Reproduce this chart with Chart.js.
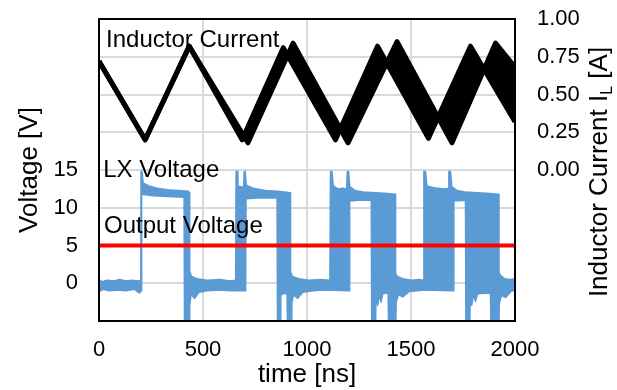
<!DOCTYPE html>
<html>
<head>
<meta charset="utf-8">
<script src="https://cdn.jsdelivr.net/npm/chart.js"></script>
<style>
  body { margin: 0; background: #fff; }
  #wrap { width: 617px; height: 390px; }
</style>
</head>
<body>
<div id="wrap"><canvas id="scope" width="617" height="390"></canvas></div>
<script>
'use strict';

// tick labels that get printed (other grid steps stay unlabelled)
var timeTicks = [0, 500, 1000, 1500, 2000];
var voltTicks = [0, 5, 10, 15];
var currentTicks = [0, 0.25, 0.5, 0.75, 1];

// inductor current, two overlaid captures (early / late switching) [ns, A]
var currentEarly = [[0,0.72],[222,0.20],[434,0.82],[688,0.20],[886,0.81],[1137,0.20],[1339,0.82],[1584,0.21],[1786,0.82],[2000,0.32]];
var currentLate  = [[0,0.72],[222,0.20],[434,0.82],[716,0.18],[933,0.84],[1197,0.18],[1433,0.85],[1697,0.18],[1906,0.84],[2000,0.68]];

// LX node voltage, upper edge of the persistence trace [ns, V]
var lxUpper = [
  [0,0.5],[15,0.2],[40,0.4],[70,0.3],[100,0.5],[130,0.3],[160,0.4],[190,0.3],[201,0.4],
  [202,14.8],[207,14.8],[212,13.3],[240,12.9],[280,12.6],[330,12.4],[380,12.3],[430,12.2],
  [434,12.0],[436,1.6],[445,0.9],[470,0.6],[520,0.4],[580,0.5],[630,0.3],[657,0.4],
  [659,14.8],[664,14.8],[668,12.9],[695,12.7],[698,14.8],[703,14.8],[708,13.0],[740,12.6],[800,12.3],[860,12.2],[919,12.0],
  [921,1.5],[930,0.9],[960,0.6],[1010,0.4],[1060,0.5],[1110,0.4],
  [1113,14.8],[1120,14.8],[1126,12.9],[1150,12.5],[1170,12.6],[1190,12.5],[1194,14.8],[1200,14.8],[1206,12.8],[1230,12.3],[1270,12.1],[1330,12.0],[1390,11.9],[1424,11.8],
  [1426,1.3],[1434,0.9],[1460,0.6],[1500,0.4],[1540,0.5],[1560,0.4],
  [1562,14.8],[1570,14.8],[1576,12.9],[1620,12.6],[1660,12.5],[1680,12.6],[1682,14.8],[1690,14.8],[1696,12.8],[1720,12.3],[1760,12.1],[1820,12.0],[1880,11.9],[1921,11.8],
  [1923,1.4],[1932,1.0],[1950,0.6],[1975,0.5],[2000,0.6]
];

// LX node voltage, lower edge of the persistence trace [ns, V]
var lxLower = [
  [0,-1.1],[20,-0.8],[50,-1.0],[90,-0.9],[130,-1.0],[170,-0.8],[195,-1.3],[203,-1.0],
  [205,11.8],[260,11.6],[330,11.5],[409,11.4],
  [411,-5],[434,-5],[436,-3.0],[442,-1.5],[460,-2.0],[480,-1.2],[520,-1.0],[580,-0.9],[630,-1.0],[705,-1.0],
  [707,11.2],[760,11.3],[856,11.3],
  [858,-5],[872,-5],[874,-1.6],[890,-1.3],[904,-1.5],[906,-5],[925,-5],[927,-2.6],[935,-1.5],[955,-2.0],[980,-1.2],[1030,-1.0],[1080,-0.9],[1203,-1.0],
  [1205,10.9],[1250,11.0],[1309,11.0],
  [1311,-5],[1330,-5],[1332,-1.8],[1340,-2.9],[1348,-1.5],[1356,-2.5],[1364,-1.4],[1390,-1.3],[1392,-5],[1427,-5],[1429,-2.5],[1440,-1.5],[1460,-1.8],[1490,-1.1],[1530,-1.0],[1560,-0.9],[1704,-1.0],
  [1706,10.9],[1762,11.0],
  [1764,-5],[1783,-5],[1785,-1.8],[1792,-2.9],[1800,-1.5],[1810,-2.4],[1820,-1.4],[1882,-1.3],[1884,-5],[1923,-5],[1925,-2.6],[1935,-1.6],[1955,-1.9],[1980,-1.1],[2000,-0.9]
];

// regulated output
var outputVoltage = [[0,5],[2000,5]];

var lxBlue = '#5B9BD5';
var fontName = "'Liberation Sans', Arial, sans-serif";

function toPoints(list){
    return list.map(function(p){ return {x: p[0], y: p[1]}; });
}

// fixed axis box sizes so the plot area lands where it should
function fixWidth(w){
    return function(scale){
        scale.width = w;
        scale.paddingTop = 0;
        scale.paddingBottom = 0;
    };
}

// frame around the plot area + right axis title + trace labels
var extras = {
    id: 'extras',
    afterDatasetsDraw: function(chart){
        var ctx = chart.ctx;
        var a = chart.chartArea;
        var xs = chart.scales.x;
        var yv = chart.scales.y;
        var yi = chart.scales.y1;

        ctx.save();
        ctx.strokeStyle = '#000';
        ctx.lineWidth = 2;
        ctx.strokeRect(a.left, a.top, a.right - a.left, a.bottom - a.top);

        ctx.fillStyle = '#000';
        ctx.textAlign = 'left';
        ctx.textBaseline = 'alphabetic';
        ctx.font = '24px ' + fontName;
        ctx.fillText('Inductor Current', xs.getPixelForValue(34), yi.getPixelForValue(0.815));
        ctx.fillText('LX Voltage', xs.getPixelForValue(20), yv.getPixelForValue(14.05));
        ctx.fillText('Output Voltage', xs.getPixelForValue(24), yv.getPixelForValue(6.6));
        ctx.restore();
    },
    afterDraw: function(chart){
        var ctx = chart.ctx;
        var a = chart.chartArea;
        var mainFont = '26px ' + fontName;
        var subFont = '16px ' + fontName;
        var part1 = 'Inductor Current I';
        var part2 = 'L';
        var part3 = ' [A]';

        ctx.save();
        ctx.font = mainFont;
        var w1 = ctx.measureText(part1).width;
        var w3 = ctx.measureText(part3).width;
        ctx.font = subFont;
        var w2 = ctx.measureText(part2).width;
        var total = w1 + w2 + w3;

        ctx.translate(chart.width - 10, (a.top + a.bottom) / 2 + 2);
        ctx.rotate(-Math.PI / 2);
        ctx.fillStyle = '#000';
        ctx.textAlign = 'left';
        ctx.textBaseline = 'alphabetic';
        var x = -total / 2;
        ctx.font = mainFont;
        ctx.fillText(part1, x, 0);
        ctx.font = subFont;
        ctx.fillText(part2, x + w1, 5);
        ctx.font = mainFont;
        ctx.fillText(part3, x + w1 + w2, 0);
        ctx.restore();
    }
};

Chart.defaults.color = '#000';
Chart.defaults.font.family = fontName;

var ctx = document.getElementById('scope').getContext('2d');
var chart = new Chart(ctx, {
    type: 'line',
    data: {
        datasets: [
            {
                label: 'Output Voltage',
                data: toPoints(outputVoltage),
                yAxisID: 'y',
                borderColor: '#FF0000',
                borderWidth: 4,
                pointRadius: 0,
                fill: false,
                clip: 0,
                order: 0
            },
            {
                label: 'LX low',
                data: toPoints(lxLower),
                yAxisID: 'y',
                borderColor: lxBlue,
                borderWidth: 1.5,
                pointRadius: 0,
                fill: false,
                clip: 0,
                order: 1
            },
            {
                label: 'LX Voltage',
                data: toPoints(lxUpper),
                yAxisID: 'y',
                borderColor: lxBlue,
                backgroundColor: lxBlue,
                borderWidth: 1.5,
                pointRadius: 0,
                fill: '-1',
                clip: 0,
                order: 1
            },
            {
                label: 'IL early',
                data: toPoints(currentEarly),
                yAxisID: 'y1',
                borderColor: '#000',
                borderWidth: 5,
                pointRadius: 0,
                fill: false,
                clip: 0,
                order: 2
            },
            {
                label: 'Inductor Current',
                data: toPoints(currentLate),
                yAxisID: 'y1',
                borderColor: '#000',
                backgroundColor: '#000',
                borderWidth: 5,
                pointRadius: 0,
                fill: '-1',
                clip: 0,
                order: 2
            }
        ]
    },
    options: {
        responsive: false,
        animation: false,
        layout: { padding: { top: 19, left: 0, right: 0, bottom: 0 } },
        plugins: {
            legend: { display: false },
            tooltip: { enabled: false }
        },
        elements: { line: { tension: 0, borderJoinStyle: 'round' } },
        scales: {
            x: {
                type: 'linear',
                min: 0,
                max: 2000,
                border: { display: false },
                grid: { color: '#D9D9D9', lineWidth: 2, drawTicks: false },
                ticks: {
                    stepSize: 500,
                    padding: 16,
                    maxRotation: 0,
                    font: { size: 22 },
                    callback: function(v){ return timeTicks.indexOf(v) >= 0 ? String(v) : ''; }
                },
                title: {
                    display: true,
                    text: 'time [ns]',
                    font: { size: 26 },
                    padding: { top: 0, bottom: 0 }
                },
                afterFit: function(scale){
                    scale.height = 69;
                    scale.paddingLeft = 0;
                    scale.paddingRight = 0;
                }
            },
            y: {
                position: 'left',
                min: -5,
                max: 35,
                border: { display: false },
                grid: { color: '#D9D9D9', lineWidth: 2, drawTicks: false },
                ticks: {
                    stepSize: 5,
                    padding: 21,
                    font: { size: 22 },
                    callback: function(v){ return voltTicks.indexOf(v) >= 0 ? String(v) : ''; }
                },
                title: {
                    display: true,
                    text: 'Voltage [V]',
                    font: { size: 26 },
                    padding: { top: 14, bottom: 0 }
                },
                afterFit: fixWidth(99)
            },
            y1: {
                position: 'right',
                min: -1,
                max: 1,
                border: { display: false },
                grid: { display: false, drawTicks: false },
                ticks: {
                    stepSize: 0.25,
                    padding: 22,
                    font: { size: 22 },
                    callback: function(v){ return currentTicks.indexOf(v) >= 0 ? v.toFixed(2) : ''; }
                },
                afterFit: fixWidth(102)
            }
        }
    },
    plugins: [extras]
});
</script>
</body>
</html>
